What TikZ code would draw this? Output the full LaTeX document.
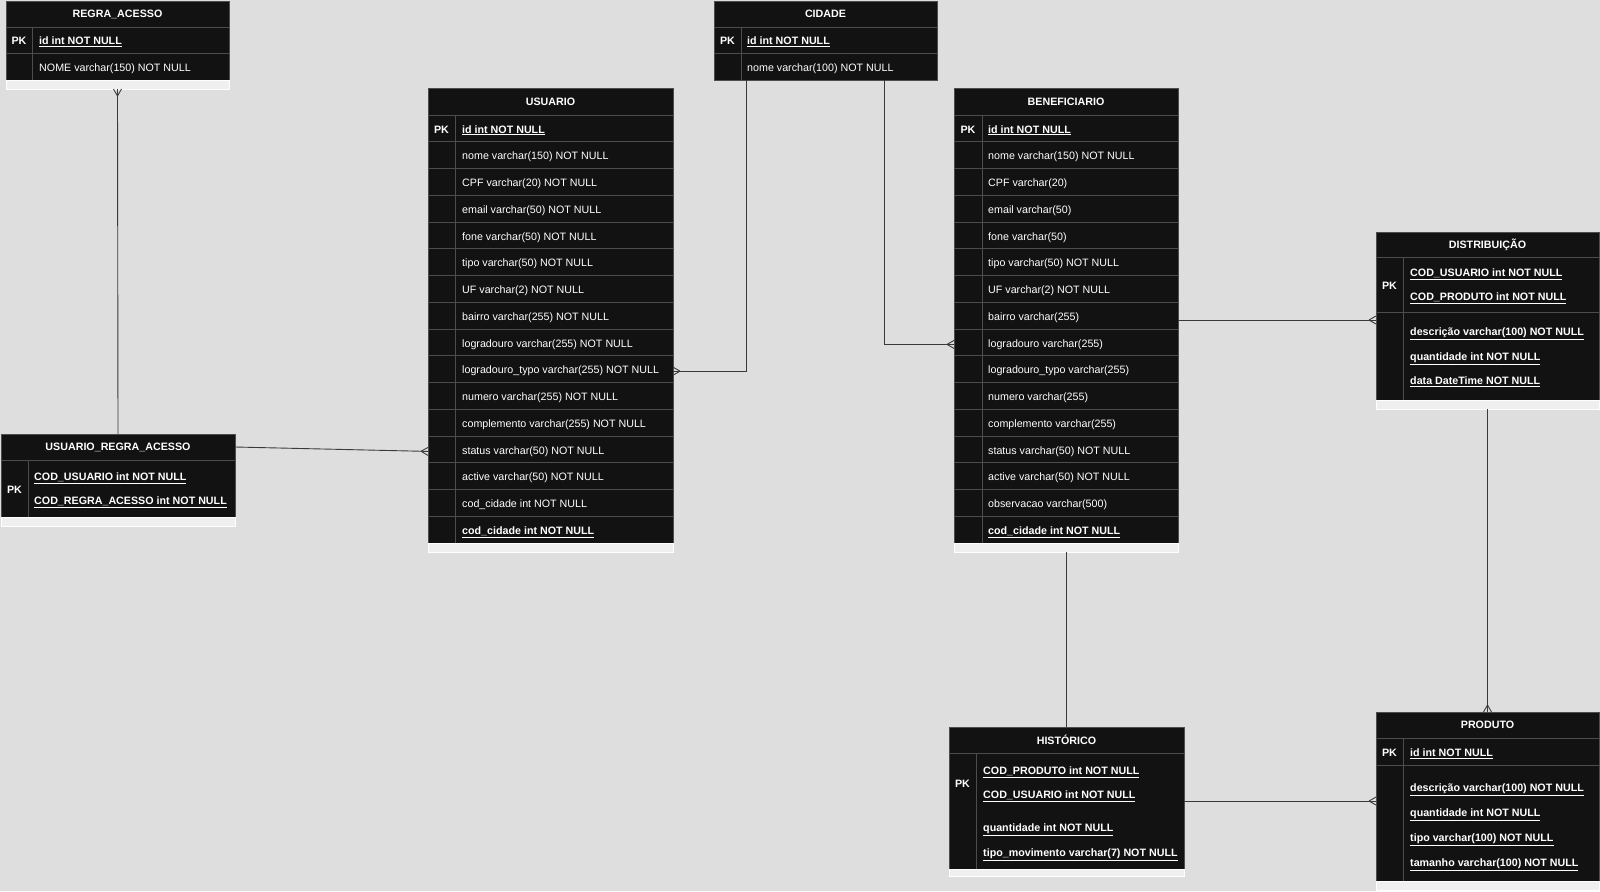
\documentclass[tikz,border=0pt]{standalone}
\usepackage{fontspec}
\setmainfont{Liberation Sans}
\usetikzlibrary{positioning,decorations.markings}

\definecolor{canvas}{HTML}{DEDEDE}
\definecolor{tblfill}{HTML}{121212}
\definecolor{tblline}{HTML}{4D4D4D}
\definecolor{tblstrip}{HTML}{EFEFEF}
\definecolor{wirecol}{HTML}{3A3A3A}

\newcommand{\fieldfont}{\fontsize{10.7}{12}\selectfont}

\tikzset{
  tblhead/.style={draw=tblline, fill=tblfill, text=white, font=\fieldfont\bfseries,
    inner sep=0pt, outer sep=0pt, minimum height=26pt, anchor=north west},
  tblbody/.style={draw=tblline, fill=tblfill, inner sep=0pt, outer sep=0pt},
  tblstrip/.style={draw=white, fill=tblstrip, inner sep=0pt, outer sep=0pt, minimum height=9pt},
  rowline/.style={draw=tblline, line width=0.8pt},
  field/.style={text=white, font=\fieldfont, inner sep=0pt, anchor=base west, yshift=-1pt},
  keyfield/.style={field, font=\fieldfont\bfseries},
  pk/.style={text=white, font=\fieldfont\bfseries, inner sep=0pt, yshift=-1pt},
  wire/.style={draw=wirecol, line width=0.9pt},
  crow/.style={postaction={decorate, decoration={markings,
    mark=at position 1 with {\draw[wire] (-7pt,0) -- (0,4pt) (-7pt,0) -- (0,-4pt);}}}}
}

\begin{document}
\begin{tikzpicture}[x=1pt,y=-1pt]
\fill[canvas] (0,0) rectangle (1600,891);
\useasboundingbox (0,0) rectangle (1600,891);

% REGRA_ACESSO
\node[tblhead, minimum width=223pt] (regra) at (6,1) {REGRA\_ACESSO};
\node[tblbody, minimum width=223pt, minimum height=53pt, below=0pt of regra] (regra body) {};
\node[tblstrip, minimum width=223pt, below=0pt of regra body] (regra strip) {};
\draw[rowline] ([yshift=-26.5pt]regra body.north west) -- ([yshift=-26.5pt]regra body.north east);
\draw[rowline] ([xshift=26pt]regra body.north west) -- ([xshift=26pt]regra body.south west);
\node[pk] at ([xshift=13pt,yshift=-13.25pt]regra body.north west) {PK};
\node[keyfield] (regra-1) at ([xshift=33pt,yshift=-17pt]regra body.north west) {\underline{id int NOT NULL}};
\node[field] (regra-2) at ([xshift=33pt,yshift=-43.5pt]regra body.north west) {NOME varchar(150) NOT NULL};

% CIDADE
\node[tblhead, minimum width=223pt] (cidade) at (714,1) {CIDADE};
\node[tblbody, minimum width=223pt, minimum height=53pt, below=0pt of cidade] (cidade body) {};
\draw[rowline] ([yshift=-26.5pt]cidade body.north west) -- ([yshift=-26.5pt]cidade body.north east);
\draw[rowline] ([xshift=27pt]cidade body.north west) -- ([xshift=27pt]cidade body.south west);
\node[pk] at ([xshift=13.5pt,yshift=-13.25pt]cidade body.north west) {PK};
\node[keyfield] (cidade-1) at ([xshift=33pt,yshift=-17pt]cidade body.north west) {\underline{id int NOT NULL}};
\node[field] (cidade-2) at ([xshift=33pt,yshift=-43.5pt]cidade body.north west) {nome varchar(100) NOT NULL};

% USUARIO
\node[tblhead, minimum width=245pt, minimum height=27pt] (usuario) at (428,88) {USUARIO};
\node[tblbody, minimum width=245pt, minimum height=428pt, below=0pt of usuario] (usuario body) {};
\node[tblstrip, minimum width=245pt, below=0pt of usuario body] (usuario strip) {};
\foreach \i in {1,...,15}
  \draw[rowline] ([yshift=-\i*26.75pt]usuario body.north west) -- ([yshift=-\i*26.75pt]usuario body.north east);
\draw[rowline] ([xshift=27pt]usuario body.north west) -- ([xshift=27pt]usuario body.south west);
\node[pk] at ([xshift=13.5pt,yshift=-13.4pt]usuario body.north west) {PK};
\foreach \s/\t [count=\i] in {
  keyfield/\underline{id int NOT NULL},
  field/nome varchar(150) NOT NULL,
  field/CPF varchar(20) NOT NULL,
  field/email varchar(50) NOT NULL,
  field/fone varchar(50) NOT NULL,
  field/tipo varchar(50) NOT NULL,
  field/UF varchar(2) NOT NULL,
  field/bairro varchar(255) NOT NULL,
  field/logradouro varchar(255) NOT NULL,
  field/logradouro\_typo varchar(255) NOT NULL,
  field/numero varchar(255) NOT NULL,
  field/complemento varchar(255) NOT NULL,
  field/status varchar(50) NOT NULL,
  field/active varchar(50) NOT NULL,
  field/cod\_cidade int NOT NULL,
  keyfield/\underline{cod\_cidade int NOT NULL}}
  \node[\s] (usuario-\i) at ([xshift=34pt,yshift={-(\i-0.5)*26.75pt-3.8pt}]usuario body.north west) {\t};

% BENEFICIARIO
\node[tblhead, minimum width=224pt, minimum height=27pt] (benef) at (954,88) {BENEFICIARIO};
\node[tblbody, minimum width=224pt, minimum height=428pt, below=0pt of benef] (benef body) {};
\node[tblstrip, minimum width=224pt, below=0pt of benef body] (benef strip) {};
\foreach \i in {1,...,15}
  \draw[rowline] ([yshift=-\i*26.75pt]benef body.north west) -- ([yshift=-\i*26.75pt]benef body.north east);
\draw[rowline] ([xshift=28pt]benef body.north west) -- ([xshift=28pt]benef body.south west);
\node[pk] at ([xshift=14pt,yshift=-13.4pt]benef body.north west) {PK};
\foreach \s/\t [count=\i] in {
  keyfield/\underline{id int NOT NULL},
  field/nome varchar(150) NOT NULL,
  field/CPF varchar(20),
  field/email varchar(50),
  field/fone varchar(50),
  field/tipo varchar(50) NOT NULL,
  field/UF varchar(2) NOT NULL,
  field/bairro varchar(255),
  field/logradouro varchar(255),
  field/logradouro\_typo varchar(255),
  field/numero varchar(255),
  field/complemento varchar(255),
  field/status varchar(50) NOT NULL,
  field/active varchar(50) NOT NULL,
  field/observacao varchar(500),
  keyfield/\underline{cod\_cidade int NOT NULL}}
  \node[\s] (benef-\i) at ([xshift=34pt,yshift={-(\i-0.5)*26.75pt-3.8pt}]benef body.north west) {\t};

% USUARIO_REGRA_ACESSO
\node[tblhead, minimum width=234pt] (ura) at (1,434) {USUARIO\_REGRA\_ACESSO};
\node[tblbody, minimum width=234pt, minimum height=57pt, below=0pt of ura] (ura body) {};
\node[tblstrip, minimum width=234pt, below=0pt of ura body] (ura strip) {};
\draw[rowline] ([xshift=27pt]ura body.north west) -- ([xshift=27pt]ura body.south west);
\node[pk] at ([xshift=13.5pt]ura body.west) {PK};
\node[keyfield] (ura-1) at ([xshift=33pt,yshift=-19.8pt]ura body.north west) {\underline{COD\_USUARIO int NOT NULL}};
\node[keyfield] (ura-2) at ([xshift=33pt,yshift=-43.8pt]ura body.north west) {\underline{COD\_REGRA\_ACESSO int NOT NULL}};

% DISTRIBUICAO
\node[tblhead, minimum width=223pt, minimum height=25pt] (distrib) at (1376,232) {DISTRIBUIÇÃO};
\node[tblbody, minimum width=223pt, minimum height=55pt, below=0pt of distrib] (distrib keys) {};
\node[tblbody, minimum width=223pt, minimum height=88pt, below=0pt of distrib keys] (distrib body) {};
\node[tblstrip, minimum width=223pt, below=0pt of distrib body] (distrib strip) {};
\draw[rowline] ([xshift=27pt]distrib keys.north west) -- ([xshift=27pt]distrib body.south west);
\node[pk] at ([xshift=13.5pt]distrib keys.west) {PK};
\node[keyfield] (distrib-1) at ([xshift=34pt,yshift=-18.8pt]distrib keys.north west) {\underline{COD\_USUARIO int NOT NULL}};
\node[keyfield] (distrib-2) at ([xshift=34pt,yshift=-42.8pt]distrib keys.north west) {\underline{COD\_PRODUTO int NOT NULL}};
\foreach \t [count=\i] in {descrição varchar(100) NOT NULL, quantidade int NOT NULL, data DateTime NOT NULL}
  \node[keyfield] (distrib-\i) at ([xshift=34pt,yshift={-22.8pt-(\i-1)*24.5pt}]distrib body.north west) {\underline{\t}};

% PRODUTO
\node[tblhead, minimum width=223pt] (produto) at (1376,712) {PRODUTO};
\node[tblbody, minimum width=223pt, minimum height=27pt, below=0pt of produto] (produto keys) {};
\node[tblbody, minimum width=223pt, minimum height=116pt, below=0pt of produto keys] (produto body) {};
\node[tblstrip, minimum width=223pt, below=0pt of produto body] (produto strip) {};
\draw[rowline] ([xshift=27pt]produto keys.north west) -- ([xshift=27pt]produto body.south west);
\node[pk] at ([xshift=13.5pt]produto keys.west) {PK};
\node[keyfield] (produto-1) at ([xshift=34pt,yshift=-17.5pt]produto keys.north west) {\underline{id int NOT NULL}};
\foreach \t [count=\i] in {descrição varchar(100) NOT NULL, quantidade int NOT NULL, tipo varchar(100) NOT NULL, tamanho varchar(100) NOT NULL}
  \node[keyfield] (produto-\i) at ([xshift=34pt,yshift={-25.3pt-(\i-1)*25.2pt}]produto body.north west) {\underline{\t}};

% HISTORICO
\node[tblhead, minimum width=235pt] (hist) at (949,727) {HISTÓRICO};
\node[tblbody, minimum width=235pt, minimum height=116pt, below=0pt of hist] (hist body) {};
\node[tblstrip, minimum width=235pt, minimum height=7pt, below=0pt of hist body] (hist strip) {};
\draw[rowline] ([xshift=27pt]hist body.north west) -- ([xshift=27pt]hist body.south west);
\node[pk] at ([xshift=13.5pt,yshift=-30pt]hist body.north west) {PK};
\node[keyfield] (hist-1) at ([xshift=34pt,yshift=-20.8pt]hist body.north west) {\underline{COD\_PRODUTO int NOT NULL}};
\node[keyfield] (hist-2) at ([xshift=34pt,yshift=-44.8pt]hist body.north west) {\underline{COD\_USUARIO int NOT NULL}};
\node[keyfield] (hist-3) at ([xshift=34pt,yshift=-77.8pt]hist body.north west) {\underline{quantidade int NOT NULL}};
\node[keyfield] (hist-4) at ([xshift=34pt,yshift=-102.8pt]hist body.north west) {\underline{tipo\_movimento varchar(7) NOT NULL}};

% relacionamentos
\coordinate (distrib in) at ([yshift=-8pt]distrib keys.south west);
\coordinate (produto in) at ([yshift=-36pt]produto body.north west);
\draw[wire, crow] (ura.north) -- (regra strip.south);
\draw[wire, crow] (ura.east) -- (usuario-13 -| usuario body.west);
\draw[wire, crow] ([xshift=32pt]cidade body.south west) |- (usuario-10 -| usuario body.east);
\draw[wire, crow] ([xshift=-53pt]cidade body.south east) |- (benef-9 -| benef body.west);
\draw[wire, crow] (distrib in -| benef body.east) -- (distrib in);
\draw[wire] (hist.north) -- (hist.north |- benef strip.south);
\draw[wire, crow] (distrib strip.south) -- (produto.north);
\draw[wire, crow] (produto in -| hist body.east) -- (produto in);
\end{tikzpicture}
\end{document}
